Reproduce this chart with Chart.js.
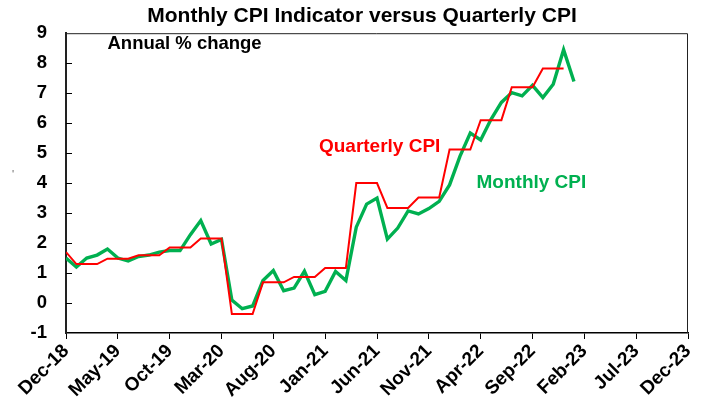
<!DOCTYPE html>
<html lang="en">
<head>
    <meta charset="UTF-8">
    <title>Monthly CPI Indicator versus Quarterly CPI</title>
    <script src="https://cdn.jsdelivr.net/npm/chart.js"></script>
    <style>
        body { margin: 0; background: #fff; }
        #wrap { width: 702px; height: 407px; position: relative; }
    </style>
</head>
<body>
    <div id="wrap"><canvas id="cpiChart"></canvas></div>

    <script>
        // Month index 0 = Dec-18, one step per month up to Dec-23 (60)
        const xTickLabels = ['Dec-18', 'May-19', 'Oct-19', 'Mar-20', 'Aug-20', 'Jan-21', 'Jun-21',
                             'Nov-21', 'Apr-22', 'Sep-22', 'Feb-23', 'Jul-23', 'Dec-23'];

        // Monthly CPI indicator, annual % change, Dec-18 .. Jan-23
        const monthlyCpi = [1.5, 1.2, 1.5, 1.6, 1.8, 1.5, 1.4, 1.55, 1.6, 1.7, 1.75, 1.75,
                            2.28, 2.75, 1.97, 2.12, 0.1, -0.19, -0.1, 0.75, 1.08, 0.41, 0.5, 1.06,
                            0.28, 0.39, 1.05, 0.75, 2.53, 3.3, 3.5, 2.13, 2.5, 3.07, 2.97, 3.15,
                            3.39, 3.94, 4.89, 5.67, 5.44, 6.13, 6.69, 7.02, 6.91, 7.26, 6.85, 7.3,
                            8.45, 7.39];

        // Quarterly CPI, annual % change, held for each month of its quarter, Dec-18 .. Dec-22
        const quarterlyCpi = [1.7, 1.3, 1.3, 1.3, 1.48, 1.48, 1.48, 1.59, 1.59, 1.59, 1.85, 1.85,
                              1.85, 2.15, 2.15, 2.15, -0.37, -0.37, -0.37, 0.69, 0.69, 0.69, 0.87, 0.87,
                              0.87, 1.17, 1.17, 1.17, 4.0, 4.0, 4.0, 3.17, 3.17, 3.17, 3.52, 3.52,
                              3.52, 5.12, 5.12, 5.12, 6.1, 6.1, 6.1, 7.2, 7.2, 7.2, 7.82, 7.82,
                              7.82];

        const toPoints = arr => arr.map((v, i) => ({ x: i, y: v }));

        const font = '"Liberation Sans", Arial, sans-serif';

        // text labels inside the plot, box border and inner y ticks
        const extras = {
            id: 'extras',
            afterLayout(chart) {
                // title sits a little right of the canvas centre
                if (chart.titleBlock) {
                    chart.titleBlock.left = 36;
                    chart.titleBlock.right = 688;
                }
            },
            afterDraw(chart) {
                const { ctx, chartArea: a, scales: { x, y } } = chart;
                ctx.save();
                // top and right border
                ctx.strokeStyle = '#222';
                ctx.lineWidth = 1;
                ctx.beginPath();
                ctx.moveTo(a.left, a.top + 0.5);
                ctx.lineTo(a.right - 0.5, a.top + 0.5);
                ctx.lineTo(a.right - 0.5, a.bottom);
                ctx.stroke();
                // inner y ticks
                ctx.strokeStyle = '#000';
                for (let v = 0; v <= 8; v++) {
                    const py = Math.round(y.getPixelForValue(v)) + 0.5;
                    ctx.beginPath();
                    ctx.moveTo(a.left, py);
                    ctx.lineTo(a.left + 6, py);
                    ctx.stroke();
                }
                ctx.textBaseline = 'middle';
                ctx.textAlign = 'left';
                ctx.fillStyle = '#000';
                ctx.font = 'bold 18.5px ' + font;
                ctx.fillText('Annual % change', x.getPixelForValue(4), y.getPixelForValue(8.65));
                ctx.fillStyle = '#FF0000';
                ctx.font = 'bold 19px ' + font;
                ctx.fillText('Quarterly CPI', x.getPixelForValue(24.4), y.getPixelForValue(5.2));
                ctx.fillStyle = '#00B050';
                ctx.fillText('Monthly CPI', x.getPixelForValue(39.6), y.getPixelForValue(4.0));
                ctx.fillStyle = '#666';
                ctx.font = '11px ' + font;
                ctx.fillText("'", 12, 175);
                ctx.restore();
            }
        };

        new Chart(document.getElementById('cpiChart'), {
            type: 'line',
            data: {
                datasets: [{
                    label: 'Quarterly CPI',
                    data: toPoints(quarterlyCpi),
                    borderColor: '#FF0000',
                    borderWidth: 2,
                    pointRadius: 0,
                    tension: 0,
                    order: 1
                }, {
                    label: 'Monthly CPI',
                    data: toPoints(monthlyCpi),
                    borderColor: '#00B050',
                    borderWidth: 3.4,
                    pointRadius: 0,
                    tension: 0,
                    order: 2
                }]
            },
            options: {
                responsive: true,
                maintainAspectRatio: false,
                animation: false,
                layout: { padding: { top: 0, right: 14, bottom: 0, left: 0 } },
                plugins: {
                    legend: { display: false },
                    tooltip: { enabled: false },
                    title: {
                        display: true,
                        text: 'Monthly CPI Indicator versus Quarterly CPI',
                        color: '#000',
                        font: { family: font, size: 21, weight: 'bold', lineHeight: 1.2 },
                        padding: { top: 4, bottom: 4 }
                    }
                },
                scales: {
                    x: {
                        type: 'linear',
                        min: 0,
                        max: 60,
                        afterFit: s => { s.height = 74; s.paddingLeft = 0; s.paddingRight = 0; },
                        afterBuildTicks: s => { s.ticks = xTickLabels.map((_, i) => ({ value: i * 5 })); },
                        ticks: {
                            autoSkip: false,
                            minRotation: 45,
                            maxRotation: 45,
                            padding: 1,
                            color: '#000',
                            font: { family: font, size: 19, weight: 'bold' },
                            callback: v => xTickLabels[v / 5]
                        },
                        grid: { drawOnChartArea: false, tickLength: 6, color: '#000' },
                        border: { color: '#000', width: 1.5 }
                    },
                    y: {
                        min: -1,
                        max: 9,
                        afterFit: s => { s.width = 66; },
                        ticks: {
                            stepSize: 1,
                            padding: 19,
                            color: '#000',
                            font: { family: font, size: 18.5, weight: 'bold' }
                        },
                        grid: { display: false, drawTicks: false },
                        border: { color: '#222', width: 2 }
                    }
                }
            },
            plugins: [extras]
        });
    </script>
</body>
</html>
